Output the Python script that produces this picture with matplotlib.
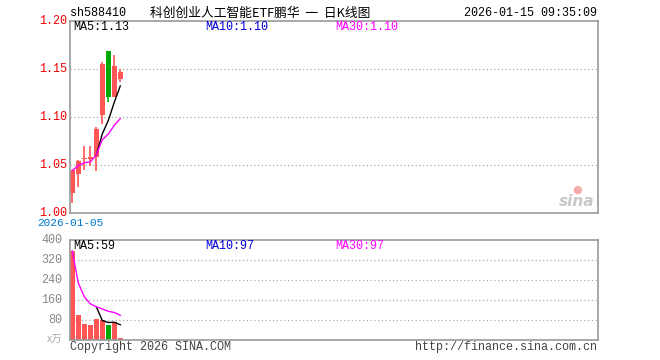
import matplotlib
matplotlib.use('Agg')
import matplotlib.pyplot as plt

# Daily K data, 2026-01-05 .. 2026-01-15
dates = ["2026-01-05", "2026-01-06", "2026-01-07", "2026-01-08", "2026-01-09",
         "2026-01-12", "2026-01-13", "2026-01-14", "2026-01-15"]
opens = [1.021, 1.040, 1.056, 1.056, 1.058, 1.102, 1.168, 1.121, 1.139]
closes = [1.044, 1.054, 1.057, 1.058, 1.087, 1.155, 1.121, 1.153, 1.147]
highs = [1.045, 1.055, 1.069, 1.070, 1.089, 1.157, 1.168, 1.164, 1.150]
lows = [1.010, 1.027, 1.045, 1.049, 1.043, 1.092, 1.115, 1.121, 1.136]
# price moving averages
ma5_price = [None, None, None, None, 1.060, 1.082, 1.096, 1.115, 1.132]
ma30_price = [1.044, 1.049, 1.052, 1.053, 1.060, 1.076, 1.082, 1.091, 1.098]
# volume (x万)
volumes = [356, 100, 64, 60, 84, 80, 60, 72, 8]
ma5_vol = [None, None, None, None, 133, 78, 70, 71, 61]
ma30_vol = [356, 228, 173, 145, 133, 124, 115, 110, 99]
price_ticks = [1.00, 1.05, 1.10, 1.15, 1.20]
vol_ticks = [80, 160, 240, 320, 400]

RED = '#ff5555'
GREEN = '#00aa00'
W, H = 660, 360
mono = ['Liberation Mono', 'DejaVu Sans Mono']
cjk = ['Noto Sans CJK SC', 'DejaVu Sans']

fig = plt.figure(figsize=(6.6, 3.6), dpi=100)

def box(l, t, r, b):
    return [l / W, 1 - b / H, (r - l) / W, (b - t) / H]

def ftext(x, y, s, **kw):
    fig.text(x / W, 1 - y / H, s, **kw)

ax = fig.add_axes(box(70, 20.7, 598, 212.7))
axv = fig.add_axes(box(70, 240, 598, 340))

n = len(dates)
xs = list(range(n))
for a in (ax, axv):
    a.set_xlim(-0.38, 87.62)
    a.set_xticks([])
    a.set_yticks([])
    for s in a.spines.values():
        s.set_color('#999999')
        s.set_linewidth(1.2)

# candles
for i in xs:
    up = closes[i] >= opens[i]
    c = RED if up else GREEN
    ax.vlines(i, lows[i], highs[i], color=c, lw=1.2)
    lo, hi = min(opens[i], closes[i]), max(opens[i], closes[i])
    ax.bar(i, max(hi - lo, 0.0008), bottom=lo, width=0.75, color=c)

m5 = [(i, v) for i, v in zip(xs, ma5_price) if v is not None]
ax.plot([p[0] for p in m5], [p[1] for p in m5], color='black', lw=1)
ax.plot(xs, ma30_price, color='#ff00ff', lw=1)
ax.set_ylim(1.00, 1.20)
for v in price_ticks[1:-1]:
    ax.axhline(v, color='#aaaaaa', lw=0.9, ls=(0, (1, 2)), zorder=0)

# volume
vc = [RED if closes[i] >= opens[i] else GREEN for i in xs]
axv.bar(xs, volumes, width=0.75, color=vc)
mv = [(i, v) for i, v in zip(xs, ma5_vol) if v is not None]
axv.plot([p[0] for p in mv], [p[1] for p in mv], color='black', lw=1)
axv.plot(xs, ma30_vol, color='#ff00ff', lw=1)
axv.set_ylim(0, 400)
for v in vol_ticks[:-1]:
    axv.axhline(v, color='#aaaaaa', lw=0.9, ls=(0, (1, 2)), zorder=0)

# tick labels
for v in price_ticks:
    y = 212.7 - (v - 1.00) / 0.20 * 192
    ftext(67, y, "%.2f" % v, ha='right', va='center', color='#ee0000',
          family=mono, fontsize=8.5)
for v in vol_ticks:
    y = 340 - v / 400 * 100
    ftext(62, y, str(v), ha='right', va='center', color='#888888',
          family=mono, fontsize=8.5)
ftext(62, 340, "x万", ha='right', va='center', color='#aaaaaa',
      family=cjk, fontsize=7.5)

# header
ftext(70, 13, "sh588410", ha='left', va='center', family=mono, fontsize=8.5)
ftext(150, 13, "科创创业人工智能ETF鹏华  一  日K线图", ha='left', va='center',
      family=cjk, fontsize=9.2)
ftext(597, 13, "2026-01-15 09:35:09", ha='right', va='center', family=mono,
      fontsize=8.5)

# MA legends
ftext(73, 27, "MA5:1.13", ha='left', va='center', color='black', family=mono, fontsize=8.5)
ftext(205, 27, "MA10:1.10", ha='left', va='center', color='#0000dd', family=mono, fontsize=8.5)
ftext(335, 27, "MA30:1.10", ha='left', va='center', color='#ff00ff', family=mono, fontsize=8.5)
ftext(73, 246, "MA5:59", ha='left', va='center', color='black', family=mono, fontsize=8.5)
ftext(205, 246, "MA10:97", ha='left', va='center', color='#0000dd', family=mono, fontsize=8.5)
ftext(335, 246, "MA30:97", ha='left', va='center', color='#ff00ff', family=mono, fontsize=8.5)

# footer texts
ftext(70, 223, dates[0], ha='center', va='center', color='#0077cc', family=mono, fontsize=8)
ftext(70, 347, "Copyright 2026 SINA.COM", ha='left', va='center', color='#444444',
      family=mono, fontsize=8.5)
ftext(597, 347, "http://finance.sina.com.cn", ha='right', va='center', color='#444444',
      family=mono, fontsize=8.5)

# sina watermark
ftext(577, 202, "sina", ha='center', va='center', color='#bbbbbb', family='DejaVu Sans',
      fontsize=11, fontweight='bold', style='italic', alpha=0.8)
ftext(577, 190, "●", ha='center', va='center', color='#f29a9a', family='DejaVu Sans',
      fontsize=8, alpha=0.8)

fig.savefig('out.png', dpi=100)
